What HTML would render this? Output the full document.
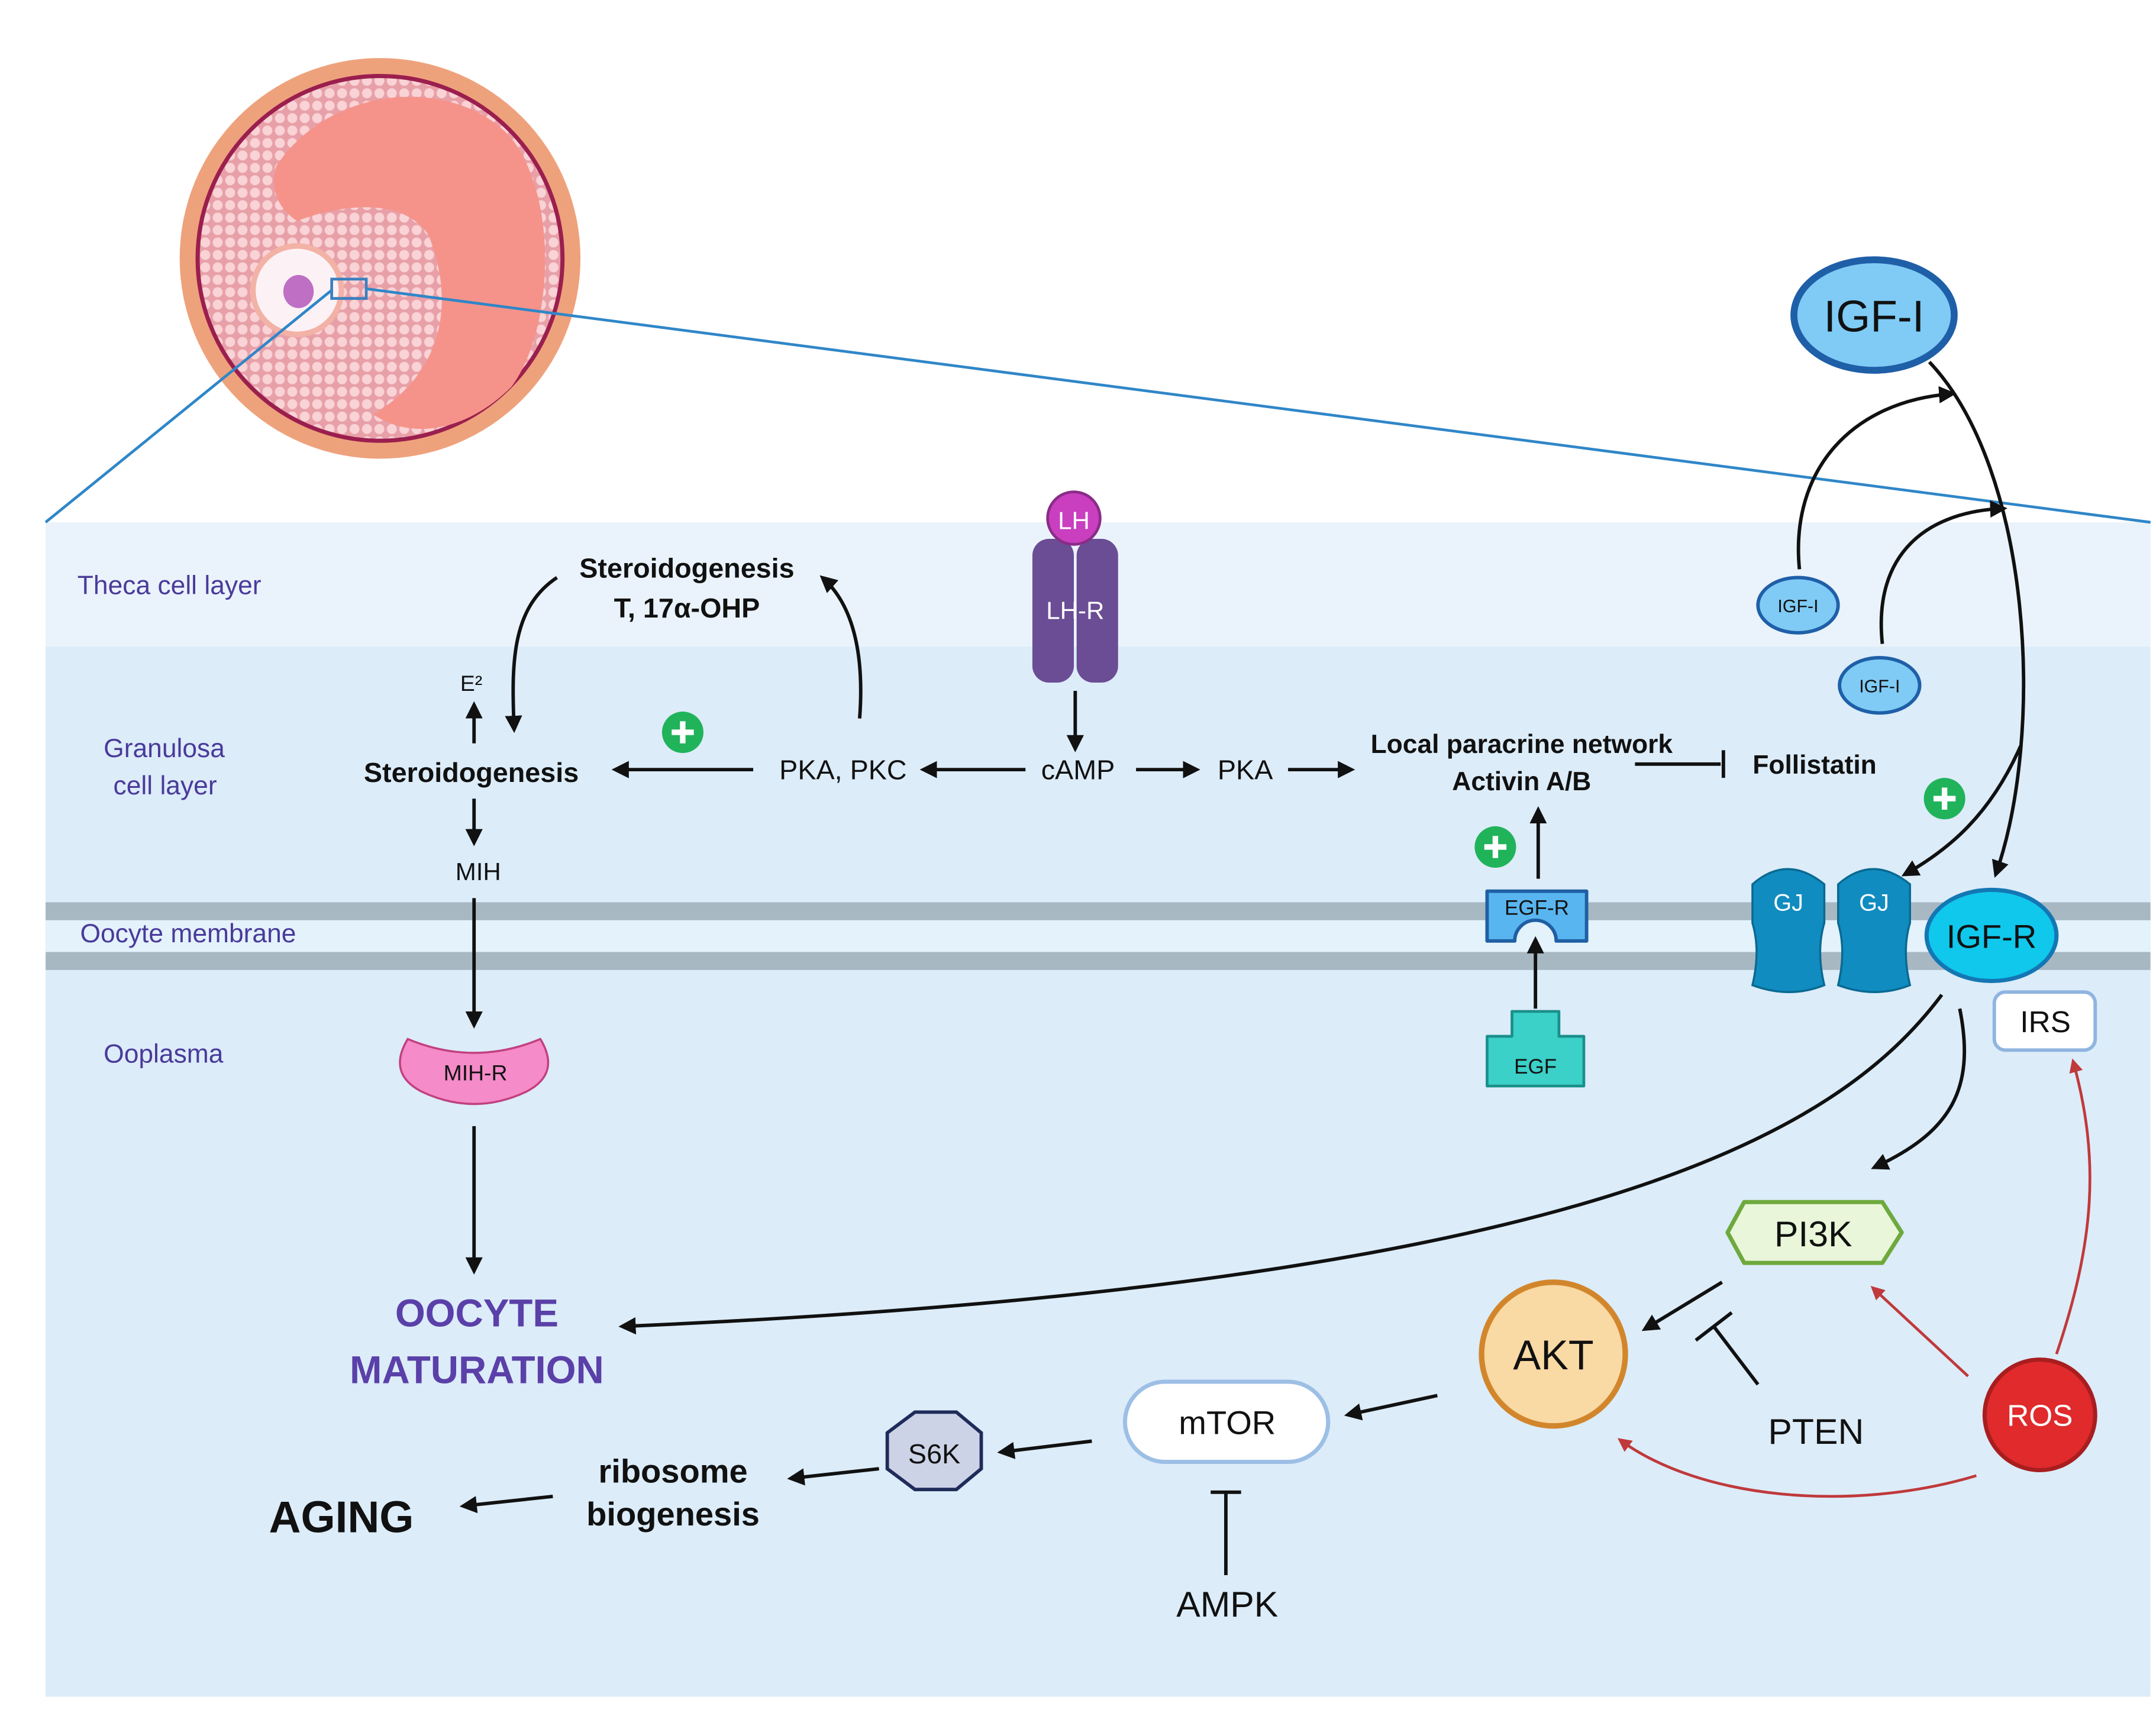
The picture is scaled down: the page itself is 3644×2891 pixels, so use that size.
<!DOCTYPE html>
<html><head><meta charset="utf-8"><style>
html,body{margin:0;padding:0;background:#fff}
svg{display:block}
text{font-family:"Liberation Sans",sans-serif}
</style></head><body>
<svg width="3644" height="2891" viewBox="0 0 1560 1237.6" preserveAspectRatio="none" xmlns="http://www.w3.org/2000/svg">
<defs>
<marker id="a" viewBox="0 0 10 10" refX="8" refY="5" markerWidth="5" markerHeight="5" orient="auto"><path d="M0,0L10,5L0,10z" fill="#111"/></marker>
<marker id="r" viewBox="0 0 10 10" refX="8" refY="5" markerWidth="5" markerHeight="5" orient="auto"><path d="M0,0L10,5L0,10z" fill="#c0393b"/></marker>
<pattern id="cells" width="9" height="9" patternUnits="userSpaceOnUse"><rect width="9" height="9" fill="#e8a0a8"/><circle cx="4.5" cy="4.5" r="3.6" fill="#f9d3d6"/></pattern>
</defs>
<rect x="33" y="378" width="1523" height="850" fill="#dcecf9"/>
<rect x="33" y="378" width="1523" height="90" fill="#eaf3fb"/>
<rect x="33" y="654" width="1523" height="48" fill="#e3f2fb"/>
<rect x="33" y="653" width="1523" height="13" fill="#a8b8c3"/>
<rect x="33" y="689" width="1523" height="13" fill="#a8b8c3"/>
<!-- follicle -->
<circle cx="275" cy="187" r="145" fill="#eea27c"/>
<circle cx="275" cy="187" r="132" fill="url(#cells)" stroke="#9b1f4e" stroke-width="3"/>
<path d="M200,120 C240,60 330,55 370,100 C405,145 400,240 370,280 C340,310 300,320 270,300 C320,270 330,220 310,170 C290,140 240,150 215,160 C200,150 195,135 200,120z" fill="#f5938a"/>
<circle cx="215" cy="210" r="34" fill="#f3b2a6"/>
<circle cx="215" cy="210" r="30" fill="#fcf2f5"/>
<ellipse cx="216" cy="211" rx="11" ry="12" fill="#bf6fc4"/>
<rect x="240" y="202" width="25" height="14" fill="none" stroke="#3a7fbf" stroke-width="2"/>
<line x1="33" y1="378" x2="240" y2="210" stroke="#2f86c8" stroke-width="2"/>
<line x1="265" y1="209" x2="1556" y2="378" stroke="#2f86c8" stroke-width="2"/>
<!-- layer labels -->
<g fill="#4a3a9a" font-size="19">
<text x="56" y="430">Theca cell layer</text>
<text x="75" y="548">Granulosa</text>
<text x="82" y="575">cell layer</text>
<text x="58" y="682">Oocyte membrane</text>
<text x="75" y="769">Ooplasma</text>
</g>
<!-- LH receptor -->
<rect x="747" y="390" width="30" height="104" rx="12" fill="#6a4d94"/>
<rect x="779" y="390" width="30" height="104" rx="12" fill="#6a4d94"/>
<circle cx="777" cy="375" r="19" fill="#c93fbf" stroke="#8a2c88" stroke-width="2"/>
<text x="777" y="383" font-size="18" fill="#fff" text-anchor="middle">LH</text>
<text x="778" y="448" font-size="18" fill="#fff" text-anchor="middle">LH-R</text>
<!-- main text -->
<g font-size="20" fill="#111" text-anchor="middle">
<text x="497" y="418" font-weight="bold">Steroidogenesis</text>
<text x="497" y="447" font-weight="bold">T, 17α-OHP</text>
<text x="341" y="566" font-weight="bold">Steroidogenesis</text>
<text x="341" y="500" font-size="16">E²</text>
<text x="346" y="637" font-size="18">MIH</text>
<text x="610" y="564">PKA, PKC</text>
<text x="780" y="564">cAMP</text>
<text x="901" y="564">PKA</text>
<text x="1101" y="545" font-weight="bold" font-size="19">Local paracrine network</text>
<text x="1101" y="572" font-weight="bold" font-size="19">Activin A/B</text>
<text x="1313" y="560" font-weight="bold" font-size="19">Follistatin</text>
</g>
<g stroke="#111" stroke-width="2.5" fill="none" marker-end="url(#a)">
<path d="M403,418 C370,440 370,480 372,528"/>
<path d="M622,520 C625,480 620,440 595,418"/>
<line x1="343" y1="538" x2="343" y2="510"/>
<line x1="343" y1="578" x2="343" y2="610"/>
<line x1="545" y1="557" x2="445" y2="557"/>
<line x1="742" y1="557" x2="668" y2="557"/>
<line x1="778" y1="500" x2="778" y2="542"/>
<line x1="822" y1="557" x2="866" y2="557"/>
<line x1="932" y1="557" x2="978" y2="557"/>
<line x1="1113" y1="636" x2="1113" y2="586"/>
<line x1="1111" y1="730" x2="1111" y2="680"/>
<line x1="343" y1="650" x2="343" y2="742"/>
<line x1="343" y1="815" x2="343" y2="920"/>
<path d="M1302,412 C1295,340 1340,290 1413,285"/>
<path d="M1362,466 C1355,400 1395,370 1450,368"/>
<path d="M1396,262 C1470,340 1480,530 1444,633"/>
<path d="M1462,540 C1440,590 1410,615 1378,633"/>
<path d="M1405,720 C1330,820 1150,930 450,960"/>
<path d="M1418,730 C1430,790 1410,820 1356,845"/>
<line x1="1246" y1="928" x2="1190" y2="962"/>
<line x1="1040" y1="1010" x2="975" y2="1024"/>
<line x1="790" y1="1043" x2="724" y2="1051"/>
<line x1="636" y1="1063" x2="572" y2="1070"/>
<line x1="400" y1="1083" x2="335" y2="1090"/>
</g>
<line x1="1183" y1="553" x2="1245" y2="553" stroke="#111" stroke-width="2.5"/>
<line x1="1247" y1="543" x2="1247" y2="563" stroke="#111" stroke-width="2.5"/>
<line x1="1272" y1="1002" x2="1240" y2="960" stroke="#111" stroke-width="2.5"/>
<line x1="1227" y1="970" x2="1253" y2="950" stroke="#111" stroke-width="2.5"/>
<line x1="887" y1="1140" x2="887" y2="1080" stroke="#111" stroke-width="2.5"/>
<line x1="876" y1="1080" x2="898" y2="1080" stroke="#111" stroke-width="2.5"/>
<g stroke="#c0393b" stroke-width="2" fill="none" marker-end="url(#r)">
<path d="M1488,980 C1515,900 1520,840 1500,768"/>
<line x1="1424" y1="996" x2="1355" y2="932"/>
<path d="M1430,1068 C1340,1095 1230,1085 1172,1042"/>
</g>
<!-- plus circles -->
<g fill="#21b35a"><circle cx="494" cy="530" r="15"/><circle cx="1082" cy="613" r="15"/><circle cx="1407" cy="578" r="15"/></g>
<g stroke="#fff" stroke-width="4"><path d="M486,530h16M494,522v16M1074,613h16M1082,605v16M1399,578h16M1407,570v16"/></g>
<!-- EGF -->
<path d="M1076,645 h72 v36 h-22 a15,15 0 0 0 -30,0 h-20z" fill="#59b5ef" stroke="#1f5fa3" stroke-width="2.5" stroke-linejoin="round"/>
<text x="1112" y="662" font-size="15" text-anchor="middle" fill="#111">EGF-R</text>
<path d="M1076,750 h18 v-18 h34 v18 h18 v36 h-70z" fill="#3bd0c8" stroke="#1a8f8a" stroke-width="2" stroke-linejoin="round"/>
<text x="1111" y="777" font-size="15" text-anchor="middle" fill="#111">EGF</text>
<!-- GJ -->
<g fill="#118cc0" stroke="#0a6a92" stroke-width="1.5">
<path d="M1268,640 q25,-22 52,0 v28 q-6,20 0,45 q-25,10 -52,0 q6,-25 0,-45z"/>
<path d="M1330,640 q25,-22 52,0 v28 q-6,20 0,45 q-25,10 -52,0 q6,-25 0,-45z"/>
</g>
<text x="1294" y="659" font-size="17" fill="#fff" text-anchor="middle">GJ</text>
<text x="1356" y="659" font-size="17" fill="#fff" text-anchor="middle">GJ</text>
<!-- IGF -->
<ellipse cx="1356" cy="228" rx="58" ry="40" fill="#7fcbf5" stroke="#1f5fa8" stroke-width="5"/>
<text x="1356" y="240" font-size="32" text-anchor="middle" fill="#111">IGF-I</text>
<ellipse cx="1301" cy="438" rx="29" ry="20" fill="#7fcbf5" stroke="#1f5fa8" stroke-width="2.5"/>
<text x="1301" y="443" font-size="13" text-anchor="middle" fill="#111">IGF-I</text>
<ellipse cx="1360" cy="496" rx="29" ry="20" fill="#7fcbf5" stroke="#1f5fa8" stroke-width="2.5"/>
<text x="1360" y="501" font-size="13" text-anchor="middle" fill="#111">IGF-I</text>
<ellipse cx="1441" cy="677" rx="47" ry="33" fill="#10c7ec" stroke="#1477b4" stroke-width="3"/>
<text x="1441" y="686" font-size="24" text-anchor="middle" fill="#111">IGF-R</text>
<rect x="1443" y="718" width="73" height="42" rx="8" fill="#fff" stroke="#8fb4e0" stroke-width="2.5"/>
<text x="1480" y="747" font-size="22" text-anchor="middle" fill="#111">IRS</text>
<!-- MIH-R -->
<path d="M295,752 q48,20 96,0 q15,25 -10,38 q-38,18 -76,0 q-25,-13 -10,-38z" fill="#f58bc8" stroke="#c2407f" stroke-width="1.5"/>
<text x="344" y="782" font-size="16" text-anchor="middle" fill="#111">MIH-R</text>
<text x="345" y="960" font-size="28" font-weight="bold" fill="#5a40a8" text-anchor="middle">OOCYTE</text>
<text x="345" y="1001" font-size="28" font-weight="bold" fill="#5a40a8" text-anchor="middle">MATURATION</text>
<!-- PI3K -->
<path d="M1262,870 h100 l14,22 l-14,22 h-100 l-12,-22z" fill="#e9f6d9" stroke="#6ea93d" stroke-width="3" stroke-linejoin="round"/>
<text x="1312" y="902" font-size="26" text-anchor="middle" fill="#111">PI3K</text>
<circle cx="1124" cy="980" r="52" fill="#f9d9a4" stroke="#d2862c" stroke-width="4"/>
<text x="1124" y="991" font-size="30" text-anchor="middle" fill="#111">AKT</text>
<circle cx="1476" cy="1024" r="40" fill="#e02a2c" stroke="#a81e1f" stroke-width="3"/>
<text x="1476" y="1032" font-size="22" text-anchor="middle" fill="#fff">ROS</text>
<text x="1314" y="1045" font-size="26" text-anchor="middle" fill="#111">PTEN</text>
<rect x="814" y="1000" width="147" height="58" rx="29" fill="#fff" stroke="#9dbfe6" stroke-width="3"/>
<text x="888" y="1038" font-size="24" text-anchor="middle" fill="#111">mTOR</text>
<text x="888" y="1170" font-size="26" text-anchor="middle" fill="#111">AMPK</text>
<polygon points="662,1022 692,1022 710,1037 710,1063 692,1078 662,1078 642,1063 642,1037" fill="#cdd3e6" stroke="#1f2c5a" stroke-width="2.5"/>
<text x="676" y="1059" font-size="20" text-anchor="middle" fill="#111">S6K</text>
<text x="487" y="1073" font-size="24" font-weight="bold" text-anchor="middle" fill="#111">ribosome</text>
<text x="487" y="1104" font-size="24" font-weight="bold" text-anchor="middle" fill="#111">biogenesis</text>
<text x="247" y="1109" font-size="32" font-weight="bold" text-anchor="middle" fill="#111">AGING</text>
</svg>
</body></html>
